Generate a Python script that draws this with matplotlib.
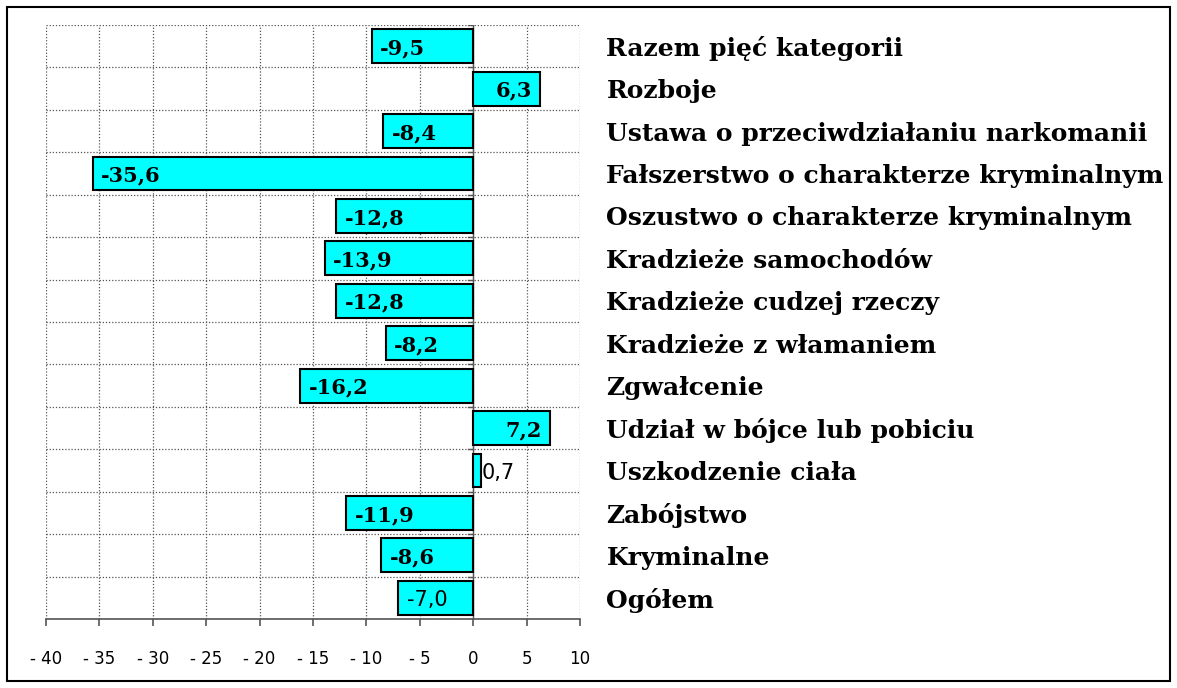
import matplotlib.pyplot as plt
from matplotlib.patches import Rectangle
import numpy as np

categories = [
    "Ogółem",
    "Kryminalne",
    "Zabójstwo",
    "Uszkodzenie ciała",
    "Udział w bójce lub pobiciu",
    "Zgwałcenie",
    "Kradzieże z włamaniem",
    "Kradzieże cudzej rzeczy",
    "Kradzieże samochodów",
    "Oszustwo o charakterze kryminalnym",
    "Fałszerstwo o charakterze kryminalnym",
    "Ustawa o przeciwdziałaniu narkomanii",
    "Rozboje",
    "Razem pięć kategorii",
]
values = [-7.0, -8.6, -11.9, 0.7, 7.2, -16.2, -8.2, -12.8, -13.9, -12.8, -35.6, -8.4, 6.3, -9.5]
labels = ["-7,0", "-8,6", "-11,9", "0,7", "7,2", "-16,2", "-8,2", "-12,8", "-13,9",
          "-12,8", "-35,6", "-8,4", "6,3", "-9,5"]
plain_labels = ["-7,0", "0,7"]  # these two come out in plain sans in the original
xticks = list(range(-40, 11, 5))
xtick_labels = ["- 40", "- 35", "- 30", "- 25", "- 20", "- 15", "- 10", "- 5", "0", "5", "10"]

serif = "DejaVu Serif"

fig = plt.figure(figsize=(11.77, 6.88), dpi=100)
ax = fig.add_axes([46 / 1177, 1 - 619 / 688, (580 - 46) / 1177, (619 - 25) / 688])

# outer frame round the whole chart
fig.patches.append(Rectangle((7 / 1177, 7 / 688), 1163 / 1177, 674 / 688,
                             transform=fig.transFigure, fill=False,
                             edgecolor="black", linewidth=1.5))

y = np.arange(len(categories))
ax.barh(y, values, height=0.8, color="#00FFFF", edgecolor="black", linewidth=1.5, zorder=3)

ax.set_xlim(-40, 10)
ax.set_ylim(-0.5, len(categories) - 0.5)

# grid: vertical every 5, horizontal on category boundaries
for x in xticks:
    ax.axvline(x, color="#555555", linestyle=(0, (1, 1.5)), linewidth=0.9, zorder=1)
for b in np.arange(-0.5, len(categories), 1.0):
    ax.axhline(b, color="#555555", linestyle=(0, (1, 1.5)), linewidth=0.9, zorder=1)

# category axis at zero with small ticks
ax.axvline(0, color="#555555", linewidth=1.0, zorder=2)
for b in np.arange(-0.5, len(categories), 1.0):
    ax.plot([-0.45, 0], [b, b], color="#555555", linewidth=1.0, zorder=2)

for s in ["top", "left", "right"]:
    ax.spines[s].set_visible(False)
ax.spines["bottom"].set_color("#555555")
ax.spines["bottom"].set_linewidth(1.2)

ax.set_xticks(xticks)
ax.set_xticklabels(xtick_labels, fontsize=12, family="DejaVu Sans")
ax.tick_params(axis="x", direction="out", length=5, width=1.2, color="#555555", pad=17)

ax.yaxis.tick_right()
ax.set_yticks(y)
ax.set_yticklabels(categories, fontsize=18, family=serif, fontweight="bold")
ax.tick_params(axis="y", length=0, pad=19)

for yi, v, lab in zip(y, values, labels):
    plain = lab in plain_labels
    kw = dict(fontsize=15,
              family="DejaVu Sans" if plain else serif,
              fontweight="normal" if plain else "bold",
              va="center", zorder=4, textcoords="offset points")
    if lab == "0,7":
        ax.annotate(lab, (v, yi), xytext=(1, -1.5), ha="left", **kw)
    elif v < 0:
        ax.annotate(lab, (v, yi), xytext=(6, -1.5), ha="left", **kw)
    else:
        ax.annotate(lab, (v, yi), xytext=(-6, -1.5), ha="right", **kw)

fig.savefig("out.png", dpi=100)
